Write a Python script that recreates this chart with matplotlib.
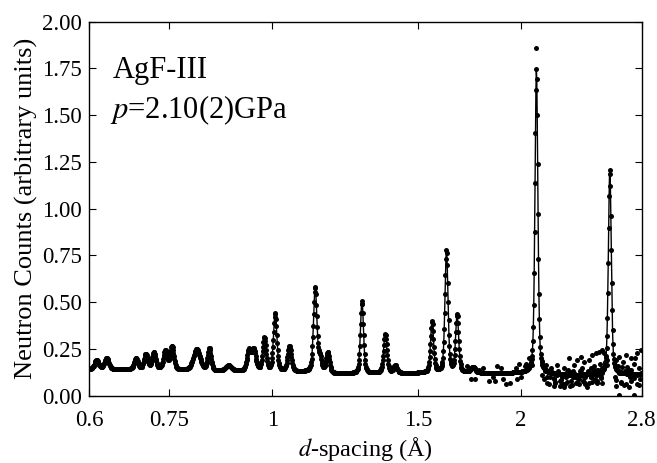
import numpy as np
import matplotlib
matplotlib.use("Agg")
import matplotlib.pyplot as plt

# peak list: d-spacing (A), height above background, fwhm (in ln d)
peak_d = [0.613, 0.630, 0.684, 0.703, 0.719, 0.742, 0.756, 0.810, 0.839, 0.885,
          0.937, 0.950, 0.978, 1.008, 1.049, 1.127, 1.142, 1.167, 1.284, 1.370,
          1.409, 1.561, 1.625, 1.674, 1.75, 2.088, 2.562]
peak_h = [0.05, 0.06, 0.06, 0.08, 0.09, 0.10, 0.125, 0.115, 0.12, 0.03,
          0.11, 0.11, 0.18, 0.31, 0.135, 0.455, 0.07, 0.11, 0.39, 0.21,
          0.04, 0.275, 0.655, 0.31, 0.03, 1.63, 1.10]
peak_w = [0.014, 0.014, 0.012, 0.012, 0.012, 0.012, 0.012, 0.022, 0.011, 0.02,
          0.013, 0.013, 0.011, 0.011, 0.012, 0.011, 0.011, 0.011, 0.010, 0.011,
          0.012, 0.010, 0.010, 0.010, 0.015, 0.0095, 0.0095]

# background levels read between the peaks
bkg_d = [0.6, 0.7, 0.85, 1.1, 1.2, 1.5, 2.0, 2.3, 2.8]
bkg_i = [0.14, 0.14, 0.13, 0.125, 0.115, 0.12, 0.12, 0.11, 0.115]

# observed points that sit off the fitted curve (noisy long-d end, outliers)
extra_d = [2.088, 1.92, 1.86, 1.98, 2.03, 2.045,
           2.064, 2.142, 2.172, 2.213, 2.254, 2.286, 2.318, 2.340, 2.361, 2.384,
           2.417, 2.440, 2.463, 2.486, 2.509, 2.533, 2.521,
           2.122, 2.152, 2.192, 2.233, 2.275, 2.307, 2.340, 2.384, 2.406, 2.440,
           2.474, 2.497, 2.142, 2.182, 2.244, 2.297, 2.361, 2.417, 2.474, 2.509,
           2.545, 2.340, 2.384, 2.428, 2.451, 2.254, 2.318, 2.202,
           2.604, 2.628, 2.678, 2.716, 2.767, 2.793, 2.604, 2.641, 2.665, 2.703,
           2.741, 2.780, 2.616, 2.653, 2.716, 2.767, 2.628, 2.741, 2.690, 2.795]
extra_i = [1.86, 0.063, 0.08, 0.09, 0.17, 0.2,
           0.164, 0.164, 0.146, 0.164, 0.146, 0.199, 0.164, 0.191, 0.209, 0.182,
           0.191, 0.218, 0.226, 0.235, 0.244, 0.199, 0.226,
           0.111, 0.102, 0.093, 0.084, 0.075, 0.057, 0.066, 0.075, 0.049, 0.075,
           0.066, 0.093, 0.137, 0.129, 0.111, 0.129, 0.137, 0.129, 0.137, 0.146,
           0.164, 0.093, 0.102, 0.102, 0.137, 0.049, 0.102, 0.075,
           0.191, 0.209, 0.218, 0.199, 0.226, 0.244, 0.084, 0.075, 0.057, 0.049,
           0.093, 0.057, 0.137, 0.155, 0.137, 0.111, 0.004, 0.004, 0.155, 0.12]

# the dense scatter between the two strong peaks and past the last one
blob_d = [2.13, 2.16, 2.18, 2.20, 2.22, 2.24, 2.26, 2.28, 2.30, 2.32,
          2.35, 2.37, 2.39, 2.41, 2.43, 2.45, 2.47, 2.49, 2.51, 2.53,
          2.14, 2.17, 2.19, 2.21, 2.23, 2.25, 2.27, 2.29, 2.31, 2.33,
          2.36, 2.38, 2.40, 2.42, 2.44, 2.46, 2.48, 2.50, 2.52, 2.54,
          2.15, 2.19, 2.23, 2.27, 2.31, 2.35, 2.39, 2.43, 2.47, 2.51,
          2.60, 2.62, 2.64, 2.66, 2.68, 2.70, 2.72, 2.74, 2.76, 2.78,
          2.61, 2.63, 2.67, 2.71, 2.75, 2.79,
          1.72, 1.76, 1.80, 1.83, 1.87, 1.90, 1.94, 1.97, 2.00, 2.02,
          1.74, 1.78, 1.85, 1.89, 1.95, 1.99]
blob_i = [0.09, 0.06, 0.12, 0.07, 0.13, 0.10, 0.06, 0.14, 0.08, 0.12,
          0.09, 0.15, 0.06, 0.13, 0.10, 0.16, 0.08, 0.17, 0.12, 0.18,
          0.13, 0.10, 0.05, 0.11, 0.08, 0.06, 0.12, 0.05, 0.10, 0.07,
          0.13, 0.08, 0.11, 0.07, 0.12, 0.09, 0.14, 0.10, 0.15, 0.19,
          0.07, 0.09, 0.05, 0.10, 0.13, 0.06, 0.10, 0.15, 0.11, 0.07,
          0.10, 0.16, 0.07, 0.18, 0.06, 0.14, 0.08, 0.17, 0.06, 0.15,
          0.05, 0.12, 0.13, 0.10, 0.20, 0.09,
          0.16, 0.09, 0.15, 0.08, 0.16, 0.09, 0.07, 0.15, 0.10, 0.16,
          0.09, 0.14, 0.10, 0.15, 0.12, 0.17]

x_ticks = [0.6, 0.75, 1, 1.5, 2, 2.8]
x_ticklabels = ['0.6', '0.75', '1', '1.5', '2', '2.8']
y_ticks = [0.0, 0.25, 0.5, 0.75, 1.0, 1.25, 1.5, 1.75, 2.0]


def profile(d):
    # pseudo-Voigt peaks in ln d on top of the background
    ld = np.log(d)
    y = np.interp(d, bkg_d, bkg_i)
    for c, h, w in zip(peak_d, peak_h, peak_w):
        x = (ld - np.log(c)) / w
        g = np.exp(-4 * np.log(2) * x ** 2)
        lor = 1 / (1 + 4 * x ** 2)
        y = y + h * (0.6 * g + 0.4 * lor)
    return y


# time-of-flight bins, even steps in ln d
d = np.exp(np.arange(np.log(0.6), np.log(2.8), 0.0012))
calc = profile(d)

plt.rcParams['font.family'] = ['Liberation Serif', 'DejaVu Serif']
plt.rcParams['mathtext.fontset'] = 'stix'

fig = plt.figure(figsize=(6.57, 4.63), dpi=100)
ax = fig.add_axes([0.1355, 0.1454, 0.8412, 0.8077])

ax.plot(d, calc, 'o', color='black', ms=3.6, mew=0)
ax.plot(extra_d, extra_i, 'o', color='black', ms=3.6, mew=0)
ax.plot(blob_d, blob_i, 'o', color='black', ms=3.6, mew=0)
ax.plot(d, calc, '-', color='black', lw=1.0)

ax.set_xscale('log')
ax.set_xlim(0.6, 2.8)
ax.set_ylim(0, 2.0)
ax.set_xticks(x_ticks)
ax.set_xticklabels(x_ticklabels)
ax.minorticks_off()
ax.set_yticks(y_ticks)
ax.set_yticklabels(['%.2f' % v for v in y_ticks])
ax.tick_params(direction='in', length=5, width=0.8, labelsize=16.5,
               top=True, right=True)
ax.tick_params(axis='x', pad=10)
ax.tick_params(axis='y', pad=5)

for s in ax.spines.values():
    s.set_linewidth(1.0)

ax.set_xlabel(r'$d$-spacing (Å)', fontsize=17.5, labelpad=3)
ax.set_ylabel('Neutron Counts (arbitrary units)', fontsize=19, labelpad=3)

ax.text(0.043, 0.8495, 'AgF-III', transform=ax.transAxes, fontsize=22, va='baseline')
ax.text(0.038, 0.7425, r'$p$=2.10(2)GPa', transform=ax.transAxes, fontsize=22, va='baseline')

fig.savefig('out.png', dpi=100)
